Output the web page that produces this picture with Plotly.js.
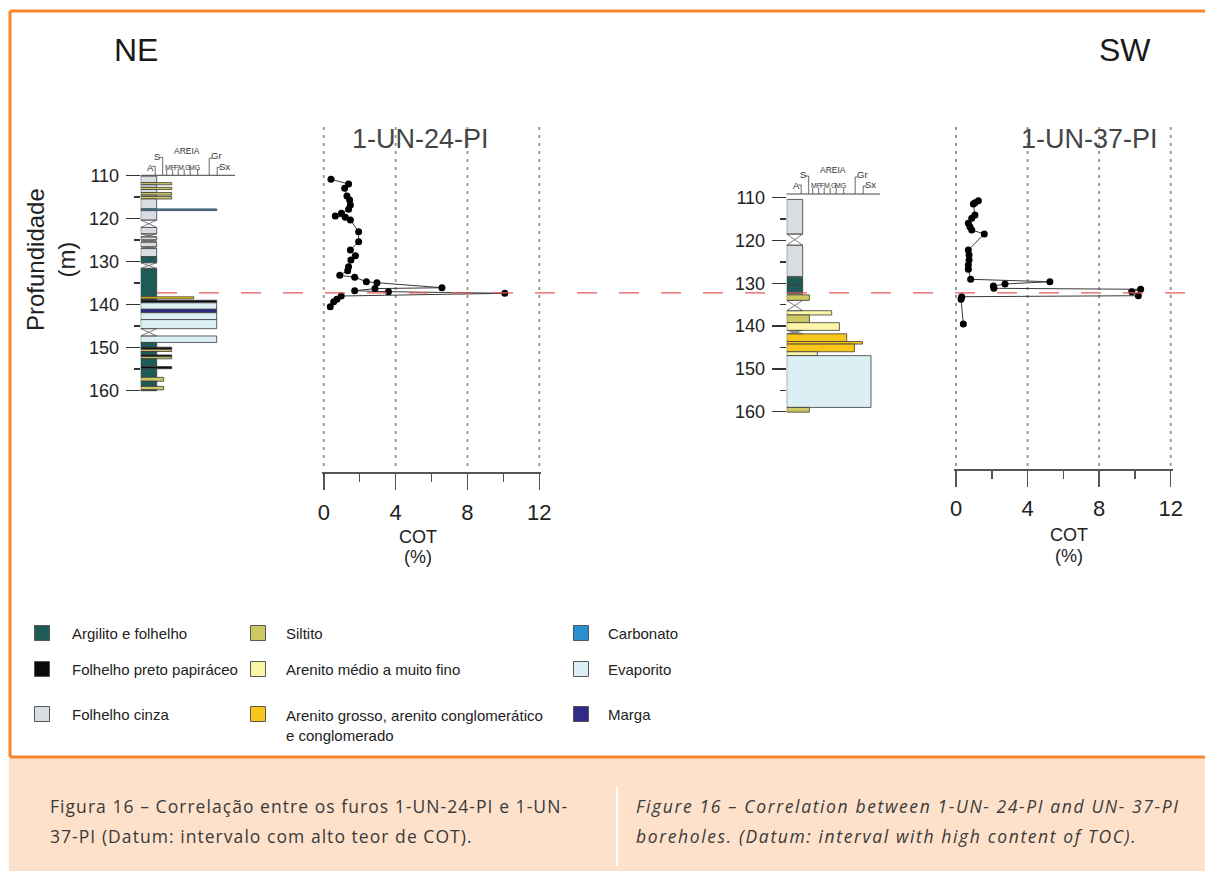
<!DOCTYPE html>
<html>
<head>
<meta charset="utf-8">
<script src="https://cdn.plot.ly/plotly-3.0.1.min.js"></script>
<style>html,body{margin:0;padding:0;background:#fff;}#chart{width:1205px;height:871px;}</style>
</head>
<body>
<div id="chart"></div>
<script>
// ================= DATA =================
const depthTicks = [110, 120, 130, 140, 150, 160];
const depthMinorTicks = [115, 125, 135, 145, 155];
const cotTicks = [0, 4, 8, 12];
const cotMinorTicks = [2, 6, 10];

// lithology legend
const lithCodes  = ['arg', 'preto', 'cinza', 'silt', 'fino', 'grosso', 'carb', 'evap', 'marga'];
const lithNames  = ['Argilito e folhelho', 'Folhelho preto papiráceo', 'Folhelho cinza',
                    'Siltito', 'Arenito médio a muito fino', 'Arenito grosso, arenito conglomerático<br>e conglomerado',
                    'Carbonato', 'Evaporito', 'Marga'];
const lithColors = ['#1e5b57', '#0b0b0b', '#d8dce3', '#cdc862', '#fcf6a8', '#f9c71c', '#2a8fcf', '#dbeff4', '#302a88'];

// NE well 1-UN-24-PI : lithology beds (top, base in m; grain = column width)
const neTop   = [110.2, 111.7, 112.2, 112.8, 113.3, 114.0, 114.6, 114.9, 115.5, 117.8, 118.2, 122.1, 124.3, 125.5, 127.0, 128.9, 131.6, 138.2, 138.7, 139.0, 139.6, 141.1, 141.9, 143.5, 147.3, 148.8, 149.9, 150.4, 150.9, 151.7, 152.1, 152.6, 154.4, 154.9, 156.9, 157.8, 159.0, 159.8];
const neBase  = [111.7, 112.2, 112.8, 113.3, 114.0, 114.6, 114.9, 115.5, 117.8, 118.2, 120.4, 123.6, 125.0, 126.6, 128.9, 130.3, 138.2, 138.7, 139.0, 139.6, 141.1, 141.9, 143.5, 145.6, 148.8, 149.9, 150.4, 150.9, 151.7, 152.1, 152.6, 154.4, 154.9, 156.9, 157.8, 159.0, 159.8, 160.0];
const neLith  = ['cinza','silt','cinza','silt','cinza','silt','cinza','silt','cinza','carb','cinza','cinza','cinza','cinza','cinza','arg','arg','grosso','arg','preto','evap','marga','evap','evap','evap','arg','preto','silt','arg','preto','silt','arg','preto','arg','silt','arg','silt','arg'];
const neGrain = [16, 31, 16, 31, 16, 31, 16, 31, 16, 76, 16, 16, 16, 16, 16, 16, 16, 53, 16, 76, 76, 76, 76, 76, 76, 16, 31, 31, 16, 31, 31, 16, 31, 16, 23, 16, 23, 16];
// intervals without recovery (crossed)
const neGapTop  = [120.4, 123.6, 125.0, 126.6, 130.3, 145.6];
const neGapBase = [122.1, 124.3, 125.5, 127.0, 131.6, 147.3];
// COT (%) vs depth
const neCotDepth = [110.93, 112.02, 113.02, 114.80, 115.73, 116.89, 117.89, 118.82, 119.45, 119.75, 120.38, 123.09, 125.41, 127.34, 128.66, 129.66, 131.22, 132.14, 133.21, 133.68, 134.70, 134.93, 136.10, 136.30, 136.79, 137.02, 137.39, 138.02, 138.78, 139.34, 140.50];
const neCot      = [0.40, 1.38, 1.16, 1.29, 1.44, 1.48, 1.38, 0.98, 0.64, 1.20, 1.48, 1.94, 1.94, 1.48, 1.76, 1.51, 1.38, 1.33, 0.89, 1.72, 2.37, 2.96, 6.58, 2.85, 1.72, 3.60, 10.08, 0.97, 0.73, 0.55, 0.36];

// SW well 1-UN-37-PI
const swTop   = [110.4, 121.1, 128.6, 130.4, 132.7, 136.4, 137.4, 139.2, 141.8, 143.6, 144.2, 146.0, 146.9, 159.0];
const swBase  = [118.5, 128.4, 130.4, 132.5, 134.0, 137.4, 139.2, 141.0, 143.6, 144.2, 146.0, 146.9, 159.0, 160.1];
const swLith  = ['cinza','cinza','arg','arg','silt','fino','silt','fino','grosso','grosso','grosso','fino','evap','silt'];
const swGrain = [16, 16, 16, 16, 22.7, 45, 22.7, 52.7, 60, 75.7, 67.7, 30.7, 84.3, 22.7];
const swGapTop  = [118.5, 134.0, 141.0];
const swGapBase = [121.1, 136.4, 141.8];
const swCotDepth = [110.70, 111.17, 111.47, 114.04, 114.81, 115.98, 116.78, 117.55, 118.48, 122.22, 123.39, 124.56, 125.72, 126.73, 129.07, 129.63, 130.16, 130.63, 131.17, 131.40, 131.96, 132.90, 133.13, 133.74, 139.51];
const swCot      = [1.25, 1.06, 0.97, 1.06, 0.88, 0.69, 0.78, 0.88, 1.58, 0.69, 0.73, 0.73, 0.69, 0.69, 0.82, 5.25, 2.74, 2.09, 2.12, 10.32, 9.82, 10.19, 0.32, 0.28, 0.41];

// datum (interval with high COT), depth in NE well
const datumDepthNE = 137.3;

// ================= LAYOUT HELPERS =================
const W = 1205, H = 871;
const px = v => v / W;
const py = v => 1 - v / H;
const FONT = 'Liberation Sans, Arial, sans-serif';

const NE = {colLeft: 140.7, colSpan: 94.3, d110: 175.3, ppm: 4.308, headY: 175.3,
            cotL: 323.8, cotR: 539.3, cotTop: 127, cotBot: 472.3, gridBot: 468};
const SW = {colLeft: 786.7, colSpan: 93.3, d110: 197.7, ppm: 4.28, headY: 194,
            cotL: 956, cotR: 1170.7, cotTop: 127, cotBot: 469, gridBot: 466};
const d2p = (f, d) => f.d110 + (d - 110) * f.ppm;
const p2d = (f, p) => 110 + (p - f.d110) / f.ppm;
const lithRange = [160.4, 103];
const cotPad = 0.12;   // small padding so edge grid lines are not clipped
const colorOf = k => lithColors[lithCodes.indexOf(k)];

function lithTrace(top, base, lith, grain, xa, ya) {
  return {type: 'bar', orientation: 'h', xaxis: xa, yaxis: ya,
    y: top.map((t, i) => (t + base[i]) / 2), x: grain, width: top.map((t, i) => base[i] - t), base: 0,
    marker: {color: lith.map(colorOf), line: {color: '#3a3a3a', width: 0.8}},
    showlegend: false, hoverinfo: 'skip'};
}
function gapTrace(top, base, w, xa, ya) {
  const x = [], y = [];
  top.forEach((t, i) => {
    const b = base[i];
    x.push(0, w, null, w, 0, null, 0, w, null, 0, w, null);
    y.push(t, b, null, t, b, null, t, t, null, b, b, null);
  });
  return {type: 'scatter', mode: 'lines', x, y, xaxis: xa, yaxis: ya,
    line: {color: '#5a5a5a', width: 0.8}, showlegend: false, hoverinfo: 'skip'};
}
function gridTrace(f, xa, ya) {
  const x = [], y = [];
  const top = p2d(f, f.cotTop), bot = p2d(f, f.gridBot);
  cotTicks.forEach(v => { x.push(v, v, null); y.push(top, bot, null); });
  return {type: 'scatter', mode: 'lines', x, y, xaxis: xa, yaxis: ya, cliponaxis: false,
    line: {color: '#9a9a9a', width: 2, dash: '3px,5px'}, showlegend: false, hoverinfo: 'skip'};
}
function cotTrace(cot, depth, xa, ya) {
  return {type: 'scatter', mode: 'lines+markers', x: cot, y: depth, xaxis: xa, yaxis: ya,
    line: {color: '#3a3a3a', width: 1}, marker: {color: '#000', size: 7},
    cliponaxis: false, showlegend: false, hoverinfo: 'skip'};
}

function lithXAxis(f) {
  return {domain: [px(f.colLeft), px(f.colLeft + f.colSpan)], range: [0, f.colSpan], visible: false, fixedrange: true};
}
function lithYAxis(f, xa) {
  return {domain: [py(d2p(f, lithRange[0])), py(d2p(f, lithRange[1]))], range: lithRange, anchor: xa,
    tickmode: 'array', tickvals: depthTicks, ticks: 'outside', ticklen: 14, tickwidth: 1.5, tickcolor: '#333',
    minor: {tickmode: 'array', tickvals: depthMinorTicks, ticks: 'outside', ticklen: 6, tickwidth: 1.5, tickcolor: '#333', showgrid: false},
    showgrid: false, zeroline: false, showline: false, ticklabelstandoff: 3,
    tickfont: {family: FONT, size: 18, color: '#222'}};
}
function cotXAxis(f, ya, standoff) {
  const ppu = (f.cotR - f.cotL) / 12;
  return {domain: [px(f.cotL - cotPad * ppu), px(f.cotR + cotPad * ppu)], range: [-cotPad, 12 + cotPad], anchor: ya,
    tickmode: 'array', tickvals: cotTicks, ticks: 'outside', ticklen: 16, tickwidth: 1.5, tickcolor: '#555',
    minor: {tickmode: 'array', tickvals: cotMinorTicks, ticks: 'outside', ticklen: 8, tickwidth: 1.5, tickcolor: '#555', showgrid: false},
    showline: true, linecolor: '#555', linewidth: 1.5, zeroline: false, showgrid: false,
    ticklabelstandoff: standoff, tickfont: {family: FONT, size: 22, color: '#222'}};
}
function cotYAxis(f, xa) {
  return {domain: [py(f.cotBot), py(f.cotTop)], range: [p2d(f, f.cotBot), p2d(f, f.cotTop)], anchor: xa, visible: false};
}

const shapes = [];
const annotations = [];
const line = (x0, y0, x1, y1, color, width, dash, layer) =>
  shapes.push({type: 'line', xref: 'paper', yref: 'paper', x0: px(x0), y0: py(y0), x1: px(x1), y1: py(y1),
               line: {color, width, dash: dash || 'solid'}, layer: layer || 'above'});
const text = (x, y, t, size, opts) => annotations.push(Object.assign({
  xref: 'paper', yref: 'paper', x: px(x), y: py(y), text: t, showarrow: false,
  xanchor: 'center', yanchor: 'middle', font: {family: FONT, size, color: '#222'}}, opts || {}));

// frame & caption band
shapes.push({type: 'rect', xref: 'paper', yref: 'paper', x0: px(9), x1: px(1205), y0: py(871), y1: py(758),
             fillcolor: '#fde1ca', line: {width: 0}, layer: 'below'});
line(10, 11, 1205, 11, '#f7872d', 3, null, 'below');
line(10, 11, 10, 757, '#f7872d', 3, null, 'below');
line(10, 757, 1205, 757, '#f7872d', 3, null, 'below');
line(617, 787, 617, 866, '#ffffff', 2, null, 'below');

// grain-size header for lithology columns
function header(f) {
  const L = f.colLeft, Y = f.headY, c = '#444';
  const small = s => ({font: {family: FONT, size: s, color: '#333'}});
  line(L, Y, L + f.colSpan, Y, c, 1);
  line(L + 11.5, Y - 9, L + 14.5, Y - 9, c, 0.8); line(L + 14.5, Y - 9, L + 14.5, Y, c, 0.8);
  line(L + 18.5, Y - 18, L + 22, Y - 18, c, 0.8); line(L + 22, Y - 18, L + 22, Y, c, 0.8);
  [26, 32, 37.5, 43.5, 49.5, 57].forEach(d => line(L + d, Y - 6, L + d, Y, c, 0.8));
  line(L + 68.5, Y - 17, L + 68.5, Y, c, 0.8); line(L + 68.5, Y - 17, L + 71.5, Y - 17, c, 0.8);
  line(L + 76.5, Y - 8, L + 76.5, Y, c, 0.8); line(L + 76.5, Y - 8, L + 79.5, Y - 8, c, 0.8);
  text(L + 46, Y - 24, 'AREIA', 8.5, small(8.5));
  text(L + 9.5, Y - 8, 'A', 9.5, small(9.5));
  text(L + 16.5, Y - 19, 'S', 9.5, small(9.5));
  [['MF', 29.5], ['F', 35.3], ['M', 40.5], ['G', 46.8], ['MG', 53.5]].forEach(([t, d]) =>
    text(L + d, Y - 8, t, 7, small(7)));
  text(L + 75.5, Y - 20, 'Gr', 9.5, small(9.5));
  text(L + 84, Y - 9, 'Sx', 9.5, small(9.5));
}
header(NE);
header(SW);

// datum line
shapes.push({type: 'line', xref: 'paper', yref: 'y', x0: px(157), x1: px(1203), y0: datumDepthNE, y1: datumDepthNE,
             line: {color: '#e35a5a', width: 1.3, dash: '20px,22px'}, layer: 'above'});

// titles and labels
text(136, 50, 'NE', 32, {font: {family: FONT, size: 32, color: '#1a1a1a'}});
text(1125, 50, 'SW', 32, {font: {family: FONT, size: 32, color: '#1a1a1a'}});
text(420, 139, '1-UN-24-PI', 27, {font: {family: FONT, size: 27, color: '#454545'}});
text(1089, 139, '1-UN-37-PI', 27, {font: {family: FONT, size: 27, color: '#454545'}});
text(51, 260, 'Profundidade<br>(m)', 24, {textangle: -90, font: {family: FONT, size: 24, color: '#222'}});
text(418, 537, 'COT', 18); text(418, 557, '(%)', 18);
text(1069, 535, 'COT', 18); text(1069, 556, '(%)', 18);

// legend (built from lithology arrays)
const legSwatchX = [42, 258, 581], legTextX = [70, 284, 606], legRowY = [633, 669, 714];
lithCodes.forEach((k, i) => {
  const col = Math.floor(i / 3), row = i % 3;
  const cx = legSwatchX[col], cy = legRowY[row];
  shapes.push({type: 'rect', xref: 'paper', yref: 'paper', x0: px(cx - 7.5), x1: px(cx + 7.5), y0: py(cy + 7.5), y1: py(cy - 7.5),
               fillcolor: lithColors[i], line: {color: '#555', width: 1}});
  const twoLine = lithNames[i].indexOf('<br>') >= 0;
  text(legTextX[col], twoLine ? cy - 9 : cy, lithNames[i], 15,
       {xanchor: 'left', yanchor: twoLine ? 'top' : 'middle', align: 'left', font: {family: FONT, size: 15, color: '#222'}});
});

// caption
const CAP = {family: 'Open Sans, Noto Sans, sans-serif', size: 17.5, color: '#3a3a3a'};
const spaced = (t, ls) => '<span style="letter-spacing:' + ls + 'px">' + t + '</span>';
text(48, 806, spaced('Figura 16 – Correlação entre os furos 1-UN-24-PI e 1-UN-', 1.05), 17.5, {xanchor: 'left', font: CAP});
text(48, 836, spaced('37-PI (Datum: intervalo com alto teor de COT).', 1.05), 17.5, {xanchor: 'left', font: CAP});
text(634, 806, '<i>' + spaced('Figure 16 – Correlation between 1-UN- 24-PI and UN- 37-PI', 1.62) + '</i>', 17.5, {xanchor: 'left', font: CAP});
text(634, 836, '<i>' + spaced('boreholes. (Datum: interval with high content of TOC).', 1.62) + '</i>', 17.5, {xanchor: 'left', font: CAP});

// ================= TRACES =================
const data = [
  lithTrace(neTop, neBase, neLith, neGrain, 'x', 'y'),
  gapTrace(neGapTop, neGapBase, 16, 'x', 'y'),
  gridTrace(NE, 'x2', 'y2'),
  cotTrace(neCot, neCotDepth, 'x2', 'y2'),
  lithTrace(swTop, swBase, swLith, swGrain, 'x3', 'y3'),
  gapTrace(swGapTop, swGapBase, 16, 'x3', 'y3'),
  gridTrace(SW, 'x4', 'y4'),
  cotTrace(swCot, swCotDepth, 'x4', 'y4')
];

const layout = {
  width: W, height: H, margin: {l: 0, r: 0, t: 0, b: 0},
  paper_bgcolor: '#ffffff', plot_bgcolor: 'rgba(0,0,0,0)',
  showlegend: false, barmode: 'overlay',
  font: {family: FONT, color: '#222'},
  xaxis: lithXAxis(NE), yaxis: lithYAxis(NE, 'x'),
  xaxis2: cotXAxis(NE, 'y2', 4), yaxis2: cotYAxis(NE, 'x2'),
  xaxis3: lithXAxis(SW), yaxis3: lithYAxis(SW, 'x3'),
  xaxis4: cotXAxis(SW, 'y4', 3), yaxis4: cotYAxis(SW, 'x4'),
  shapes, annotations
};

Plotly.newPlot('chart', data, layout, {displayModeBar: false, staticPlot: true});
</script>
</body>
</html>
